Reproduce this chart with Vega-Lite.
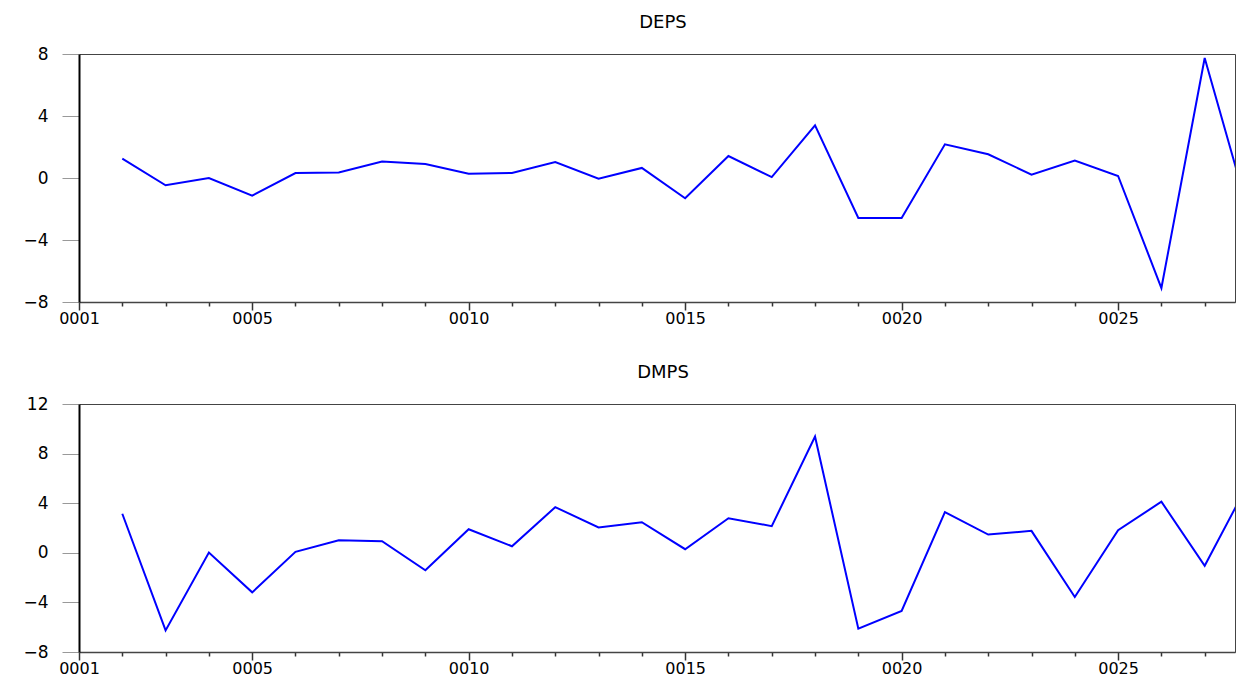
{
  "$schema": "https://vega.github.io/schema/vega-lite/v6.json",
  "background": "white",
  "padding": {"left": 22, "top": 13, "right": 0, "bottom": 0},
  "spacing": 36,
  "config": {
    "font": "DejaVu Sans",
    "view": {"stroke": "#444444", "strokeWidth": 1},
    "axis": {"grid": false, "title": null, "labelFont": "DejaVu Sans", "labelFontSize": 17, "labelColor": "black"}
  },
  "data": {
    "values": [
      {"obs": 2, "DEPS": 1.25, "DMPS": 3.15},
      {"obs": 3, "DEPS": -0.47, "DMPS": -6.26},
      {"obs": 4, "DEPS": 0.0, "DMPS": 0.02},
      {"obs": 5, "DEPS": -1.14, "DMPS": -3.19},
      {"obs": 6, "DEPS": 0.32, "DMPS": 0.08},
      {"obs": 7, "DEPS": 0.35, "DMPS": 1.01},
      {"obs": 8, "DEPS": 1.06, "DMPS": 0.93},
      {"obs": 9, "DEPS": 0.9, "DMPS": -1.41},
      {"obs": 10, "DEPS": 0.28, "DMPS": 1.9},
      {"obs": 11, "DEPS": 0.32, "DMPS": 0.53},
      {"obs": 12, "DEPS": 1.03, "DMPS": 3.68},
      {"obs": 13, "DEPS": -0.04, "DMPS": 2.04},
      {"obs": 14, "DEPS": 0.65, "DMPS": 2.47},
      {"obs": 15, "DEPS": -1.31, "DMPS": 0.29},
      {"obs": 16, "DEPS": 1.42, "DMPS": 2.79},
      {"obs": 17, "DEPS": 0.06, "DMPS": 2.15},
      {"obs": 18, "DEPS": 3.4, "DMPS": 9.37},
      {"obs": 19, "DEPS": -2.58, "DMPS": -6.12},
      {"obs": 20, "DEPS": -2.58, "DMPS": -4.69},
      {"obs": 21, "DEPS": 2.17, "DMPS": 3.28},
      {"obs": 22, "DEPS": 1.53, "DMPS": 1.47},
      {"obs": 23, "DEPS": 0.22, "DMPS": 1.77},
      {"obs": 24, "DEPS": 1.12, "DMPS": -3.56},
      {"obs": 25, "DEPS": 0.13, "DMPS": 1.82},
      {"obs": 26, "DEPS": -7.1, "DMPS": 4.12},
      {"obs": 27, "DEPS": 7.74, "DMPS": -1.05},
      {"obs": 28, "DEPS": -2.09, "DMPS": 5.56}
    ]
  },
  "vconcat": [
    {
      "title": {"text": "DEPS", "font": "DejaVu Sans", "fontSize": 18, "fontWeight": "normal", "color": "black", "dx": 6, "offset": 13},
      "width": 1156,
      "height": 248,
      "mark": {"type": "line", "color": "#0000FF", "strokeWidth": 2, "clip": true},
      "encoding": {
        "x": {
          "field": "obs", "type": "quantitative",
          "scale": {"domain": [1, 27.7], "nice": false, "zero": false},
          "axis": {
            "values": [1,2,3,4,5,6,7,8,9,10,11,12,13,14,15,16,17,18,19,20,21,22,23,24,25,26,27],
            "labelExpr": "datum.value == 1 || datum.value % 5 == 0 ? (datum.value < 10 ? '000' + datum.value : '00' + datum.value) : ''",
            "labelOverlap": false,
            "labelFlush": false,
            "labelPadding": 0,
            "labelFontSize": 16,
            "tickSize": {"condition": {"test": "datum.value == 1 || datum.value % 5 == 0", "value": 8}, "value": 4},
            "tickColor": "#333333",
            "tickWidth": 1.5,
            "domainColor": "#444444",
            "domainWidth": 1.5
          }
        },
        "y": {
          "field": "DEPS", "type": "quantitative",
          "scale": {"domain": [-8, 8], "nice": false},
          "axis": {
            "values": [-8, -4, 0, 4, 8],
            "tickSize": 17,
            "tickColor": "#999999",
            "tickWidth": 1,
            "labelPadding": 14,
            "domainColor": "black",
            "domainWidth": 2
          }
        }
      }
    },
    {
      "title": {"text": "DMPS", "font": "DejaVu Sans", "fontSize": 18, "fontWeight": "normal", "color": "black", "dx": 6, "offset": 13},
      "width": 1156,
      "height": 248,
      "mark": {"type": "line", "color": "#0000FF", "strokeWidth": 2, "clip": true},
      "encoding": {
        "x": {
          "field": "obs", "type": "quantitative",
          "scale": {"domain": [1, 27.7], "nice": false, "zero": false},
          "axis": {
            "values": [1,2,3,4,5,6,7,8,9,10,11,12,13,14,15,16,17,18,19,20,21,22,23,24,25,26,27],
            "labelExpr": "datum.value == 1 || datum.value % 5 == 0 ? (datum.value < 10 ? '000' + datum.value : '00' + datum.value) : ''",
            "labelOverlap": false,
            "labelFlush": false,
            "labelPadding": 0,
            "labelFontSize": 16,
            "tickSize": {"condition": {"test": "datum.value == 1 || datum.value % 5 == 0", "value": 8}, "value": 4},
            "tickColor": "#333333",
            "tickWidth": 1.5,
            "domainColor": "#444444",
            "domainWidth": 1.5
          }
        },
        "y": {
          "field": "DMPS", "type": "quantitative",
          "scale": {"domain": [-8, 12], "nice": false},
          "axis": {
            "values": [-8, -4, 0, 4, 8, 12],
            "tickSize": 17,
            "tickColor": "#999999",
            "tickWidth": 1,
            "labelPadding": 14,
            "domainColor": "black",
            "domainWidth": 2
          }
        }
      }
    }
  ]
}
